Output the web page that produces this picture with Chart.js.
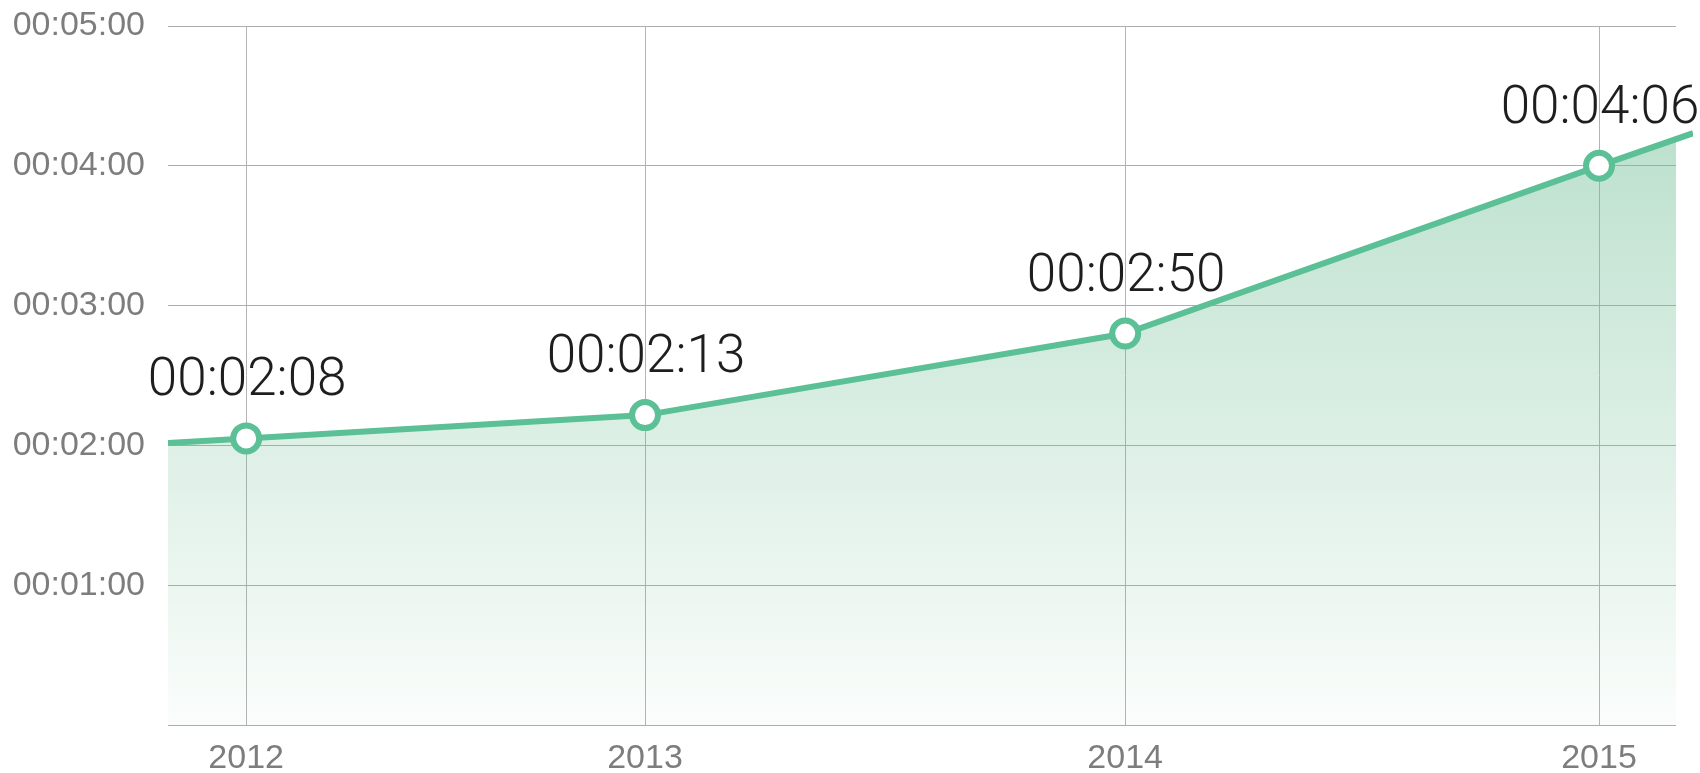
<!DOCTYPE html>
<html><head><meta charset="utf-8">
<script src="https://cdn.jsdelivr.net/npm/chart.js@4.4.1/dist/chart.umd.min.js"></script>
<style>html,body{margin:0;padding:0;background:#fff;overflow:hidden;}</style>
</head><body>
<canvas id="c" width="1700" height="773"></canvas>
<script>
// ---- data ----
const categories = ['2012', '2013', '2014', '2015'];
const pointPositions = [1.97, 12.02, 24.12, 36.06];      // x position (months from axis start)
const durationSeconds = [123, 133, 168, 240];            // plotted value (seconds)
const pointLabels = ['00:02:08', '00:02:13', '00:02:50', '00:04:06'];
const edgePositions = [0, 38.43];                        // where the line meets the plot edges
const edgeSeconds = [121, 254];
const yTicks = [0, 60, 120, 180, 240, 300];
const xRange = [0, 38];

function fmt(sec) {
  const m = Math.floor(sec / 60), s = Math.round(sec % 60);
  return '00:' + String(m).padStart(2, '0') + ':' + String(s).padStart(2, '0');
}

const green = '#5bc096';
const data = [{x: edgePositions[0], y: edgeSeconds[0]}]
  .concat(pointPositions.map((x, i) => ({x, y: durationSeconds[i]})))
  .concat([{x: edgePositions[1], y: edgeSeconds[1]}]);

const labelPlugin = {
  id: 'pointLabels',
  afterDatasetsDraw(chart) {
    const meta = chart.getDatasetMeta(0);
    const ctx = chart.ctx;
    ctx.save();
    ctx.font = '300 53px Roboto';
    ctx.fillStyle = '#1e1e1e';
    ctx.textAlign = 'center';
    ctx.textBaseline = 'alphabetic';
    pointLabels.forEach((t, i) => {
      const el = meta.data[i + 1];
      ctx.fillText(t, el.x + 1, el.y - 43);
    });
    ctx.restore();
  }
};

new Chart(document.getElementById('c'), {
  type: 'line',
  data: {
    datasets: [{
      data,
      borderColor: green,
      borderWidth: 6,
      tension: 0,
      fill: 'origin',
      clip: {left: 0, top: 0, right: 17, bottom: 0},
      backgroundColor: (ctx) => {
        const chart = ctx.chart;
        const ca = chart.chartArea;
        if (!ca || !chart.scales.y) return 'rgba(108,188,146,0.3)';
        const top = chart.scales.y.getPixelForValue(edgeSeconds[1]);
        const g = chart.ctx.createLinearGradient(0, top, 0, ca.bottom);
        g.addColorStop(0, 'rgba(108,188,146,0.45)');
        g.addColorStop(1, 'rgba(108,188,146,0.03)');
        return g;
      },
      pointRadius: (c) => (c.dataIndex === 0 || c.dataIndex === data.length - 1) ? 0 : 13,
      pointBackgroundColor: '#ffffff',
      pointBorderColor: green,
      pointBorderWidth: 6,
      pointHoverRadius: 13
    }]
  },
  options: {
    responsive: false,
    devicePixelRatio: 1,
    animation: false,
    events: [],
    layout: {autoPadding: false, padding: {left: 0, right: 24, top: 26, bottom: 0}},
    plugins: {legend: {display: false}, tooltip: {enabled: false}},
    scales: {
      x: {
        type: 'linear',
        min: xRange[0], max: xRange[1],
        afterBuildTicks: (s) => { s.ticks = pointPositions.map(v => ({value: v})); },
        afterFit: (s) => { s.height = 48; },
        ticks: {
          autoSkip: false, maxRotation: 0,
          padding: 13,
          color: '#7d7d7d',
          font: {family: 'Liberation Sans', size: 34},
          callback: (v, i) => categories[i]
        },
        grid: {color: '#b3b3b3', lineWidth: 1, drawTicks: false},
        border: {display: false}
      },
      y: {
        min: yTicks[0], max: yTicks[yTicks.length - 1],
        afterBuildTicks: (s) => { s.ticks = yTicks.map(v => ({value: v})); },
        afterFit: (s) => { s.width = 168; s.paddingTop = 0; s.paddingBottom = 0; },
        ticks: {
          padding: 23,
          color: '#7d7d7d',
          font: {family: 'Liberation Sans', size: 34},
          callback: (v) => v === 0 ? '' : fmt(v)
        },
        grid: {color: '#adadad', lineWidth: 1, drawTicks: false},
        border: {display: false}
      }
    }
  },
  plugins: [labelPlugin]
});
</script>
</body></html>
